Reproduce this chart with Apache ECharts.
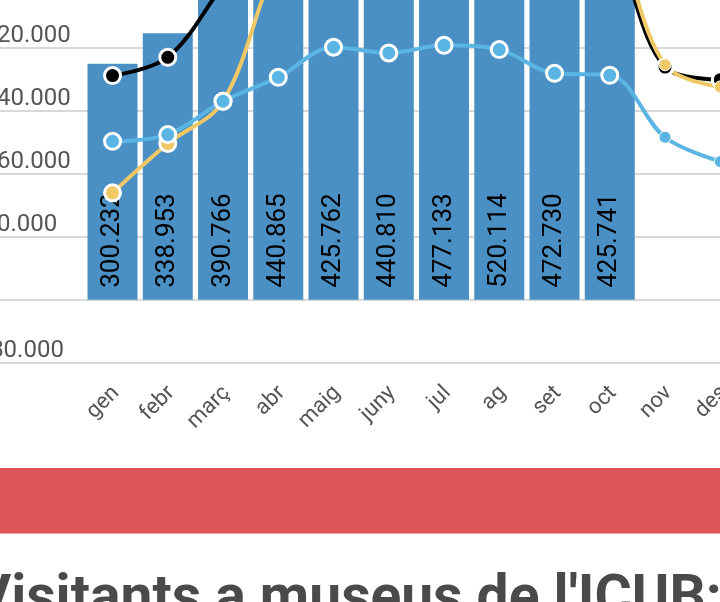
<!DOCTYPE html>
<html>
<head>
<meta charset="utf-8">
<script src="https://cdn.jsdelivr.net/npm/echarts@6/dist/echarts.min.js"></script>
<style>
html,body{margin:0;padding:0;background:#fff;overflow:hidden;}
#wrap{position:relative;width:720px;height:602px;overflow:hidden;}
#chart{position:absolute;left:-40px;top:-260px;width:800px;height:862px;}
</style>
</head>
<body>
<div id="wrap"><div id="chart"></div></div>
<script>
const months = ['gen','febr','març','abr','maig','juny','jul','ag','set','oct','nov','des'];
const barValues = [300232,338953,390766,440865,425762,440810,477133,520114,472730,425741,null,null];
const lineBlack = [285200,308400,400000,490000,540000,550000,570000,580000,520000,460000,296000,280000];
const lineYellow = [136000,198700,252500,430000,520000,545000,560000,575000,515000,470000,298900,270800];
const lineBlue = [201600,210100,252500,283000,321200,314000,323700,318200,288100,285500,206700,175800];
const titleText = "Visitants a museus de l'ICUB:";

function fmt(v){
  const s = Math.abs(Math.round(v)).toString().replace(/\B(?=(\d{3})+(?!\d))/g,'.');
  return (v < 0 ? '-' : '') + s;
}
function pts(arr, color, smallFrom){
  return arr.map((v,i)=>{
    if (i >= smallFrom) {
      return {value:v, symbolSize:12, itemStyle:{color:color, borderColor:'#fff', borderWidth:1}};
    }
    return {value:v};
  });
}
const chart = echarts.init(document.getElementById('chart'), null, {renderer:'canvas'});
const lineCommon = {
  type:'line', smooth:0.35, symbol:'circle', symbolSize:16,
  lineStyle:{width:4}, clip:true, xAxisIndex:0, yAxisIndex:0
};
const yRange = {type:'value', min:-80000, max:640000, interval:80000};
chart.setOption({
  animation:false,
  backgroundColor:'#fff',
  grid:[
    {left:124.9, top:56.6, width:663, height:566.1, containLabel:false, outerBoundsMode:'none'},
    {left:0, top:56.6, width:800, height:566.1, containLabel:false, outerBoundsMode:'none'}
  ],
  xAxis:[
    {
      type:'category', data:months, gridIndex:0,
      axisLine:{show:false}, axisTick:{show:false},
      axisLabel:{rotate:45, fontSize:22, color:'#555', fontFamily:'Roboto', margin:30.5, interval:0, padding:[0,-5,0,0]}
    },
    {type:'value', gridIndex:1, show:false, min:0, max:1}
  ],
  yAxis:[
    Object.assign({}, yRange, {gridIndex:0, axisLine:{show:false}, axisTick:{show:false}, splitLine:{show:false}, axisLabel:{show:false}}),
    Object.assign({}, yRange, {gridIndex:1, axisLine:{show:false}, axisTick:{show:false},
      splitLine:{lineStyle:{color:'#d9d9d9', width:2}},
      axisLabel:{align:'left', margin:-23.5, verticalAlign:'bottom', fontSize:24, color:'#555', fontFamily:'Roboto', formatter:fmt}})
  ],
  series:[
    {
      type:'bar', data:barValues, barWidth:50, itemStyle:{color:'#4a90c4'}, xAxisIndex:0, yAxisIndex:0,
      label:{show:true, position:'insideBottom', distance:12, rotate:90, align:'left', verticalAlign:'middle',
        fontSize:26, color:'#000', fontFamily:'Roboto', formatter:p=>fmt(p.value)}
    },
    Object.assign({}, lineCommon, {data:pts(lineBlack,'#000',99), itemStyle:{color:'#000', borderColor:'#fff', borderWidth:3}, lineStyle:{width:4,color:'#000'}}),
    Object.assign({}, lineCommon, {data:pts(lineYellow,'#f0c866',10), itemStyle:{color:'#f0c866', borderColor:'#fff', borderWidth:3}, lineStyle:{width:4,color:'#f0c866'}}),
    Object.assign({}, lineCommon, {data:pts(lineBlue,'#5ab4e4',10), itemStyle:{color:'#5ab4e4', borderColor:'#fff', borderWidth:3}, lineStyle:{width:4,color:'#5ab4e4'}})
  ],
  graphic:[
    {type:'rect', shape:{x:0, y:728, width:800, height:65.5}, style:{fill:'#db5457'}},
    {type:'text', x:14, y:832, style:{text:titleText, fontSize:57, fontWeight:'bold', fontFamily:'Roboto', fill:'#4a4a4a', verticalAlign:'top'}}
  ]
});
</script>
</body>
</html>
